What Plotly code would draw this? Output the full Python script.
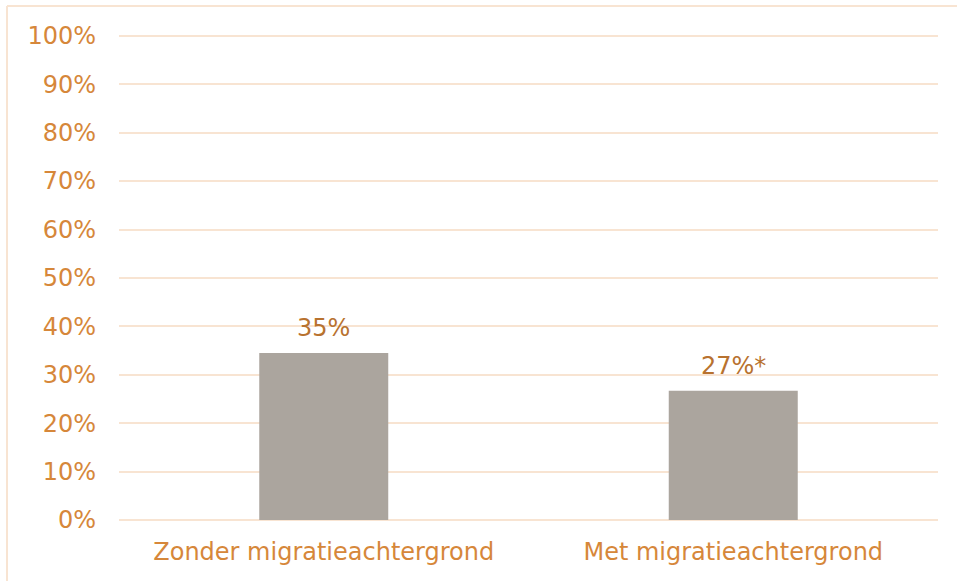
import plotly.graph_objects as go

categories = ["Zonder migratieachtergrond", "Met migratieachtergrond"]
values = [34.5, 26.7]
labels = ["35%", "27%*"]
tick_vals = [0, 10, 20, 30, 40, 50, 60, 70, 80, 90, 100]
tick_text = [f"{v}%" for v in tick_vals]

W, H = 957, 581
L, R, T, B = 119, 19, 31, 61
pw = W - L - R
ph = H - T - B
FS = 24
BORDER = "#F8E4D2"

fig = go.Figure()
fig.add_trace(go.Bar(
    x=categories, y=values, width=0.315,
    marker=dict(color="#ABA59E", line=dict(width=0)),
))

for c, v, t in zip(categories, values, labels):
    fig.add_annotation(x=c, y=v, text=t, showarrow=False, yanchor="bottom",
                       yshift=9, font=dict(color="#B8722F", size=FS, family="DejaVu Sans"))

bx0 = (7 - L) / pw
bx1 = (W + 30 - L) / pw
by0 = (H - B - (H + 30)) / ph
by1 = (H - B - 6) / ph

fig.update_layout(
    width=W, height=H,
    margin=dict(l=L, r=R, t=T, b=B),
    paper_bgcolor="white", plot_bgcolor="white",
    showlegend=False,
    font=dict(family="DejaVu Sans", color="#D6873A", size=FS),
    xaxis=dict(showgrid=False, showline=False, ticks="", ticklabelstandoff=15,
               tickfont=dict(size=FS, color="#D6873A")),
    yaxis=dict(range=[0, 101], tickvals=tick_vals, ticktext=tick_text,
               showgrid=True, gridcolor="#F8E4D2", gridwidth=2,
               zeroline=True, zerolinecolor="#F8E4D2", zerolinewidth=2,
               showline=False, ticks="", ticklabelstandoff=22,
               tickfont=dict(size=FS, color="#D6873A")),
    shapes=[
        dict(type="line", xref="paper", yref="paper", x0=bx0, x1=bx0, y0=by0, y1=by1,
             line=dict(color=BORDER, width=2), layer="below"),
        dict(type="line", xref="paper", yref="paper", x0=bx0, x1=bx1, y0=by1, y1=by1,
             line=dict(color=BORDER, width=2), layer="below"),
    ],
)

fig.write_html("out.html", config={"displayModeBar": False},
               post_script="document.body.style.margin='0';document.body.style.overflow='hidden';")
